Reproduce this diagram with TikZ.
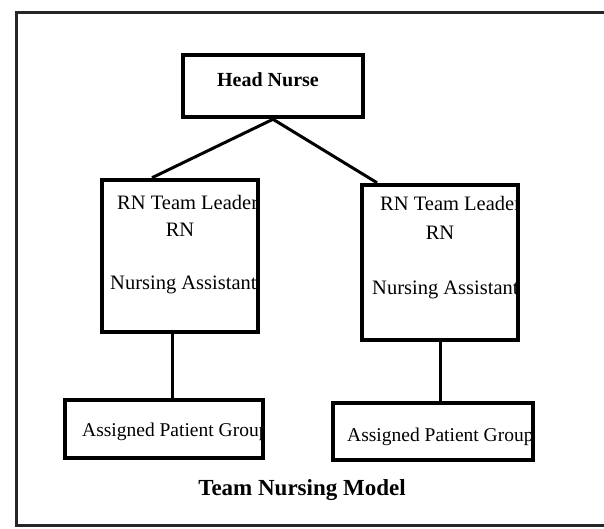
\documentclass[tikz,border=0pt]{standalone}
\usepackage{fontspec}
\setmainfont{Liberation Serif}
\begin{document}
\begin{tikzpicture}[x=1pt,y=-1pt,
  box/.style={draw, line width=4.5pt, fill=white, inner sep=0pt, anchor=center},
  conn/.style={line width=3pt},
  txt/.style={inner sep=0pt, font=\fontsize{20.5}{24}\selectfont},
  apgtxt/.style={inner sep=0pt, font=\fontsize{19.5}{22}\selectfont}]
\useasboundingbox (0,0) rectangle (604,529);
% outer frame
\coordinate (fTR) at (606,13);
\coordinate (fTL) at (16,13);
\coordinate (fBL) at (16,525);
\coordinate (fBR) at (606,525);
\draw[line width=3pt, black!85] (fTR) -- (fTL) -- (fBL) -- (fBR);
% boxes
\node[box, minimum width=180pt, minimum height=62pt] (head) at (273,86) {};
\node[box, minimum width=156pt, minimum height=152pt] (left) at (180,256) {};
\node[box, minimum width=156pt, minimum height=155pt] (right) at (440,262.5) {};
\node[box, minimum width=198pt, minimum height=58pt] (apgL) at (164,429) {};
\node[box, minimum width=200pt, minimum height=57pt] (apgR) at (433,431.5) {};
% connectors
\draw[conn] (head.south) -- ([xshift=-28pt]left.north);
\draw[conn] (head.south) -- ([xshift=-63pt]right.north);
\draw[conn] ([xshift=-8pt]left.south) -- ([xshift=8pt]apgL.north);
\draw[conn] (right.south) -- ([xshift=7pt]apgR.north);
% texts
\node[inner sep=0pt, font=\fontsize{20}{24}\bfseries] (tHead) at (268,80) {Head Nurse};
\begin{scope}
\clip ([shift={(2.25pt,-2.25pt)}]left.north west) rectangle ([shift={(-2.25pt,2.25pt)}]left.south east);
\node[txt, anchor=west] (tL1) at (117,202) {RN Team Leader};
\node[txt] (tL2) at (180,230) {RN};
\node[txt, anchor=west] (tL3) at (110,285) {Nursing Assistant};
\end{scope}
\begin{scope}
\clip ([shift={(2.25pt,-2.25pt)}]right.north west) rectangle ([shift={(-2.25pt,2.25pt)}]right.south east);
\node[txt, anchor=west] (tR1) at (380,203) {RN Team Leader};
\node[txt] (tR2) at (440,233) {RN};
\node[txt, anchor=west] (tR3) at (372,290) {Nursing Assistants};
\end{scope}
\begin{scope}
\clip ([shift={(2.25pt,-2.25pt)}]apgL.north west) rectangle ([shift={(-2.25pt,2.25pt)}]apgL.south east);
\node[apgtxt, anchor=west] (tA1) at (82,432) {Assigned Patient Group};
\end{scope}
\begin{scope}
\clip ([shift={(2.25pt,-2.25pt)}]apgR.north west) rectangle ([shift={(-2.25pt,2.25pt)}]apgR.south east);
\node[apgtxt, anchor=west] (tA2) at (347,437) {Assigned Patient Group};
\end{scope}
\node[inner sep=0pt, font=\fontsize{23}{27}\bfseries] (title) at (302,490) {Team Nursing Model};
\end{tikzpicture}
\end{document}
